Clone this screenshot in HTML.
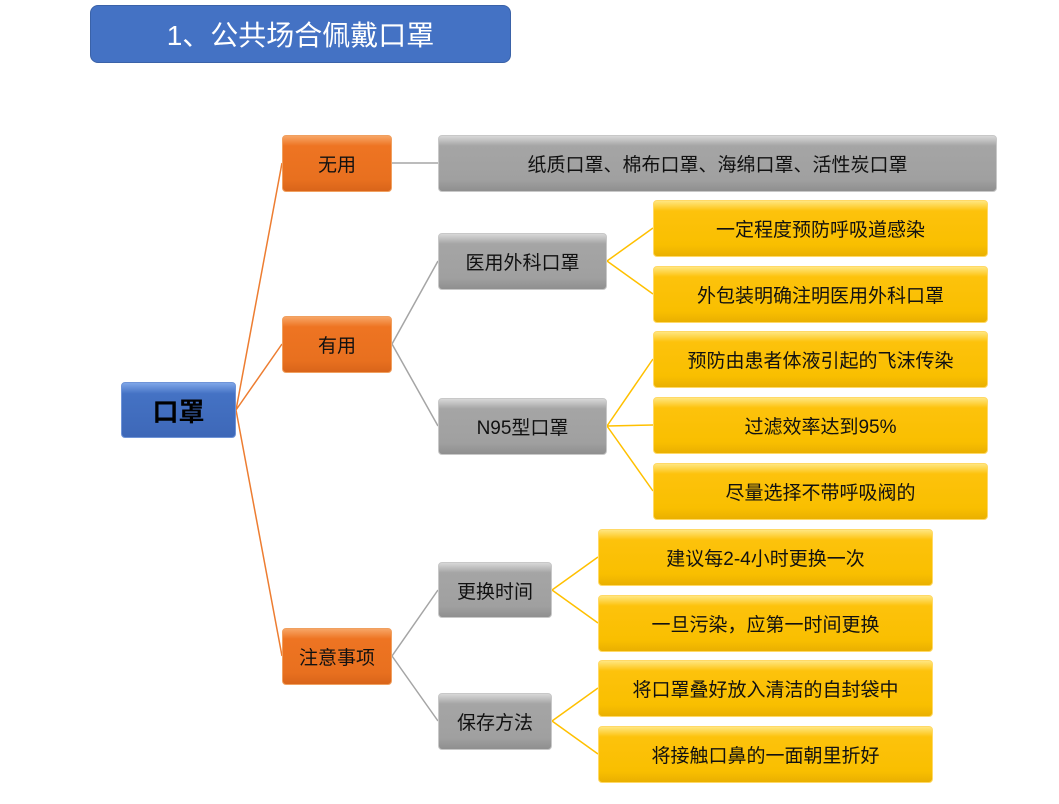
<!DOCTYPE html>
<html><head><meta charset="utf-8"><style>
body{margin:0;width:1059px;height:804px;background:#fff;position:relative;overflow:hidden;font-family:"Liberation Sans","Noto Sans CJK SC",sans-serif;}
.b{position:absolute;display:flex;align-items:center;justify-content:center;border-radius:4px;font-size:19px;color:#111;box-sizing:border-box;}
.o{background:linear-gradient(#f7a565 0%,#ee7422 18%,#e8701f 80%,#d9651a 100%);border:1px solid #f0a060;}
.g{background:linear-gradient(#d8d8d8 0%,#a5a5a5 18%,#a0a0a0 80%,#8f8f8f 100%);border:1px solid #c8c8c8;}
.y{background:linear-gradient(#ffe680 0%,#fdc20c 18%,#f9bf00 80%,#eab000 100%);border:1px solid #ffd966;}
</style></head><body>
<div class="b" style="left:90px;top:5px;width:421px;height:58px;border-radius:8px;background:#4472c4;color:#fff;font-size:28px;border:1px solid #3a62a8;">1、公共场合佩戴口罩</div>
<svg width="1059" height="804" style="position:absolute;left:0;top:0">
<g fill="none" stroke-width="1.5">
<path d="M236 410 L282 163 M236 410 L282 344 M236 410 L282 656" stroke="#ed7d31"/>
<path d="M392 163 L438 163 M392 344 L438 261 M392 344 L438 426 M392 656 L438 590 M392 656 L438 721" stroke="#a5a5a5"/>
<path d="M607 261 L653 228 M607 261 L653 294 M607 426 L653 359 M607 426 L653 425 M607 426 L653 491 M552 590 L598 557 M552 590 L598 623 M552 721 L598 688 M552 721 L598 754" stroke="#ffc000"/>
</g></svg>
<div class="b" style="left:121px;top:382px;width:115px;height:56px;background:linear-gradient(#7fa6e8,#4472c4 20%,#3e68b8);border:1px solid #6f94d8;font-size:26px;font-weight:bold;color:#000">口罩</div>
<div class="b o" style="left:282px;top:135px;width:110px;height:57px">无用</div>
<div class="b o" style="left:282px;top:316px;width:110px;height:57px">有用</div>
<div class="b o" style="left:282px;top:628px;width:110px;height:57px">注意事项</div>
<div class="b g" style="left:438px;top:135px;width:559px;height:57px">纸质口罩、棉布口罩、海绵口罩、活性炭口罩</div>
<div class="b g" style="left:438px;top:233px;width:169px;height:57px">医用外科口罩</div>
<div class="b g" style="left:438px;top:398px;width:169px;height:57px">N95型口罩</div>
<div class="b g" style="left:438px;top:562px;width:114px;height:56px">更换时间</div>
<div class="b g" style="left:438px;top:693px;width:114px;height:57px">保存方法</div>
<div class="b y" style="left:653px;top:200px;width:335px;height:57px">一定程度预防呼吸道感染</div>
<div class="b y" style="left:653px;top:266px;width:335px;height:57px">外包装明确注明医用外科口罩</div>
<div class="b y" style="left:653px;top:331px;width:335px;height:57px">预防由患者体液引起的飞沫传染</div>
<div class="b y" style="left:653px;top:397px;width:335px;height:57px">过滤效率达到95%</div>
<div class="b y" style="left:653px;top:463px;width:335px;height:57px">尽量选择不带呼吸阀的</div>
<div class="b y" style="left:598px;top:529px;width:335px;height:57px">建议每2-4小时更换一次</div>
<div class="b y" style="left:598px;top:595px;width:335px;height:57px">一旦污染，应第一时间更换</div>
<div class="b y" style="left:598px;top:660px;width:335px;height:57px">将口罩叠好放入清洁的自封袋中</div>
<div class="b y" style="left:598px;top:726px;width:335px;height:57px">将接触口鼻的一面朝里折好</div>
</body></html>
